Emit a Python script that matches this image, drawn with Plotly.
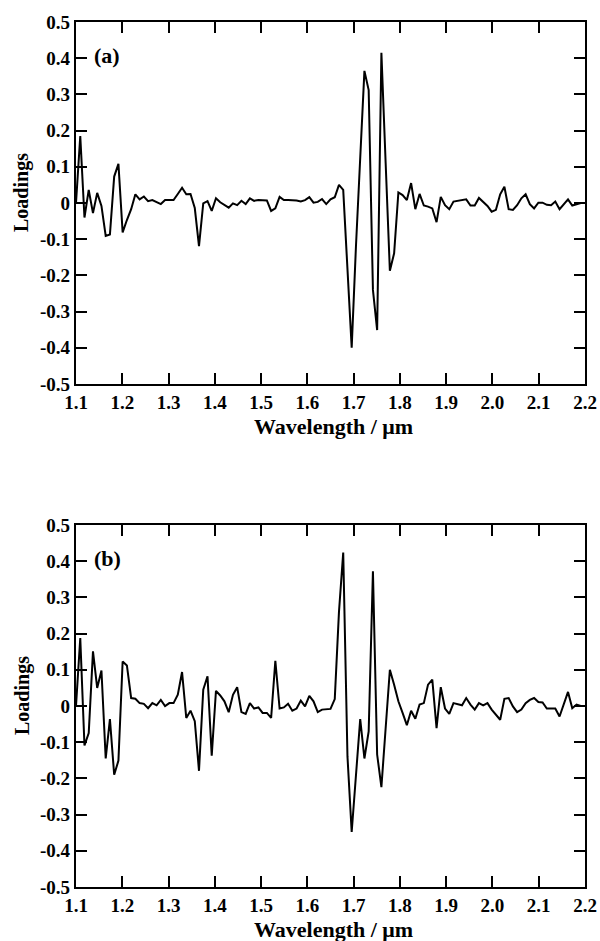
import plotly.graph_objects as go

# Wavelength grid (µm), 121 samples from 1.1 to 2.2
wavelength = [
    1.1000, 1.1092, 1.1183, 1.1275, 1.1367, 1.1458, 1.1550, 1.1642, 1.1733, 1.1825,
    1.1917, 1.2008, 1.2100, 1.2192, 1.2283, 1.2375, 1.2467, 1.2558, 1.2650, 1.2742,
    1.2833, 1.2925, 1.3017, 1.3108, 1.3200, 1.3292, 1.3383, 1.3475, 1.3567, 1.3658,
    1.3750, 1.3842, 1.3933, 1.4025, 1.4117, 1.4208, 1.4300, 1.4392, 1.4483, 1.4575,
    1.4667, 1.4758, 1.4850, 1.4942, 1.5033, 1.5125, 1.5217, 1.5308, 1.5400, 1.5492,
    1.5583, 1.5675, 1.5767, 1.5858, 1.5950, 1.6042, 1.6133, 1.6225, 1.6317, 1.6408,
    1.6500, 1.6592, 1.6683, 1.6775, 1.6867, 1.6958, 1.7050, 1.7142, 1.7233, 1.7325,
    1.7417, 1.7508, 1.7600, 1.7692, 1.7783, 1.7875, 1.7967, 1.8058, 1.8150, 1.8242,
    1.8333, 1.8425, 1.8517, 1.8608, 1.8700, 1.8792, 1.8883, 1.8975, 1.9067, 1.9158,
    1.9250, 1.9342, 1.9433, 1.9525, 1.9617, 1.9708, 1.9800, 1.9892, 1.9983, 2.0075,
    2.0167, 2.0258, 2.0350, 2.0442, 2.0533, 2.0625, 2.0717, 2.0808, 2.0900, 2.0992,
    2.1083, 2.1175, 2.1267, 2.1358, 2.1450, 2.1542, 2.1633, 2.1725, 2.1817, 2.1908,
    2.2000,
]

# Panel (a) loadings
loadings_a = [
    0.000, 0.185, -0.040, 0.036, -0.028, 0.028, -0.008, -0.091, -0.087, 0.073,
    0.108, -0.081, -0.047, -0.017, 0.024, 0.010, 0.018, 0.005, 0.008, 0.003,
    -0.003, 0.008, 0.008, 0.008, 0.025, 0.042, 0.024, 0.025, -0.014, -0.119,
    -0.001, 0.005, -0.022, 0.013, 0.002, -0.006, -0.013, -0.001, -0.006, 0.006,
    -0.003, 0.013, 0.006, 0.008, 0.008, 0.007, -0.022, -0.015, 0.017, 0.008,
    0.008, 0.008, 0.007, 0.004, 0.008, 0.016, 0.001, 0.003, 0.011, -0.003,
    0.010, 0.016, 0.050, 0.036, -0.200, -0.400, -0.120, 0.140, 0.365, 0.312,
    -0.240, -0.351, 0.415, 0.110, -0.187, -0.139, 0.029, 0.022, 0.008, 0.055,
    -0.017, 0.025, -0.007, -0.010, -0.015, -0.053, 0.017, -0.006, -0.017, 0.004,
    0.006, 0.008, 0.010, -0.007, -0.007, 0.014, 0.004, -0.008, -0.024, -0.019,
    0.024, 0.045, -0.017, -0.019, -0.006, 0.013, 0.024, -0.003, -0.015, 0.001,
    0.001, -0.005, -0.006, 0.004, -0.017, -0.003, 0.010, -0.007, -0.004, 0.000,
    0.000,
]

# Panel (b) loadings
loadings_b = [
    0.000, 0.188, -0.109, -0.075, 0.151, 0.050, 0.098, -0.145, -0.036, -0.190,
    -0.151, 0.123, 0.112, 0.022, 0.020, 0.008, 0.006, -0.006, 0.008, 0.002,
    0.017, 0.000, 0.008, 0.008, 0.031, 0.094, -0.033, -0.013, -0.042, -0.179,
    0.045, 0.082, -0.137, 0.042, 0.029, 0.013, -0.017, 0.031, 0.052, -0.017,
    -0.022, 0.008, -0.007, -0.004, -0.019, -0.019, -0.033, 0.125, -0.007, -0.004,
    0.006, -0.013, -0.007, 0.015, -0.001, 0.028, 0.013, -0.017, -0.010, -0.010,
    -0.008, 0.019, 0.260, 0.424, -0.140, -0.348, -0.200, -0.036, -0.145, -0.070,
    0.372, -0.134, -0.224, -0.050, 0.100, 0.059, 0.013, -0.019, -0.053, -0.013,
    -0.035, 0.004, 0.008, 0.059, 0.073, -0.061, 0.052, -0.007, -0.022, 0.008,
    0.006, 0.002, 0.022, 0.004, -0.010, 0.008, 0.002, 0.008, -0.010, -0.024,
    -0.038, 0.020, 0.022, -0.001, -0.017, -0.010, 0.008, 0.017, 0.022, 0.011,
    0.010, -0.007, -0.006, -0.007, -0.029, 0.008, 0.039, -0.006, 0.004, 0.000,
    0.000,
]

x_tick_vals = [1.1, 1.2, 1.3, 1.4, 1.5, 1.6, 1.7, 1.8, 1.9, 2.0, 2.1, 2.2]
x_tick_text = ["1.1", "1.2", "1.3", "1.4", "1.5", "1.6", "1.7", "1.8", "1.9", "2.0", "2.1", "2.2"]
y_tick_vals = [0.5, 0.4, 0.3, 0.2, 0.1, 0.0, -0.1, -0.2, -0.3, -0.4, -0.5]
y_tick_text = ["0.5", "0.4", "0.3", "0.2", "0.1", "0", "-0.1", "-0.2", "-0.3", "-0.4", "-0.5"]

panel_labels = ["(a)", "(b)"]
x_title = "Wavelength / μm"
y_title = "Loadings"

W, H = 600, 941
FONT = "Liberation Serif"

def px_x(p):
    return p / W

def px_y(p):
    return 1 - p / H

x_dom = [px_x(76), px_x(585)]
top_dom = [px_y(384), px_y(22)]
bot_dom = [px_y(887), px_y(525)]

fig = go.Figure()
fig.add_trace(go.Scatter(x=wavelength, y=loadings_a, mode="lines",
                         line=dict(color="black", width=2), xaxis="x", yaxis="y",
                         showlegend=False))
fig.add_trace(go.Scatter(x=wavelength, y=loadings_b, mode="lines",
                         line=dict(color="black", width=2), xaxis="x2", yaxis="y2",
                         showlegend=False))

tickfont = dict(family=FONT, size=19, color="black", weight="bold")

def xaxis(anchor):
    return dict(domain=x_dom, anchor=anchor, range=[1.1, 2.2],
                tickvals=x_tick_vals, ticktext=x_tick_text,
                showline=True, linecolor="black", linewidth=2.2, mirror="ticks",
                ticks="inside", ticklen=11, tickwidth=1.5, tickcolor="black",
                showgrid=False, zeroline=False, tickfont=tickfont, automargin=False)

def yaxis(anchor, dom):
    return dict(domain=dom, anchor=anchor, range=[-0.5, 0.5],
                tickvals=y_tick_vals, ticktext=y_tick_text,
                showline=True, linecolor="black", linewidth=2.2, mirror="ticks",
                ticks="inside", ticklen=11, tickwidth=1.5, tickcolor="black",
                showgrid=False, zeroline=False, tickfont=tickfont, automargin=False)

annotations = []
panel_info = [(top_dom, 22, 384), (bot_dom, 525, 887)]
for k, (dom, ytop, ybot) in enumerate(panel_info):
    ymid = (ytop + ybot) / 2
    annotations.append(dict(text=y_title, x=px_x(22), y=px_y(ymid - 10),
                            xref="paper", yref="paper", textangle=-90,
                            showarrow=False, xanchor="center", yanchor="middle",
                            font=dict(family=FONT, size=20, color="black", weight="bold")))
    annotations.append(dict(text=x_title, x=px_x(333), y=px_y(ybot + 42),
                            xref="paper", yref="paper", showarrow=False,
                            xanchor="center", yanchor="middle",
                            font=dict(family=FONT, size=22, color="black", weight="bold")))
    annotations.append(dict(text=panel_labels[k], x=px_x(92), y=px_y(ytop + 33),
                            xref="paper", yref="paper", showarrow=False,
                            xanchor="left", yanchor="middle",
                            font=dict(family=FONT, size=22, color="black", weight="bold")))

fig.update_layout(
    width=W, height=H,
    margin=dict(l=0, r=0, t=0, b=0),
    paper_bgcolor="white", plot_bgcolor="white",
    xaxis=xaxis("y"), yaxis=yaxis("x", top_dom),
    xaxis2=xaxis("y2"), yaxis2=yaxis("x2", bot_dom),
    annotations=annotations,
    showlegend=False,
)

fig.write_html(
    "out.html",
    config={"displayModeBar": False},
    post_script="document.body.style.margin='0';document.body.style.overflow='hidden';",
)
